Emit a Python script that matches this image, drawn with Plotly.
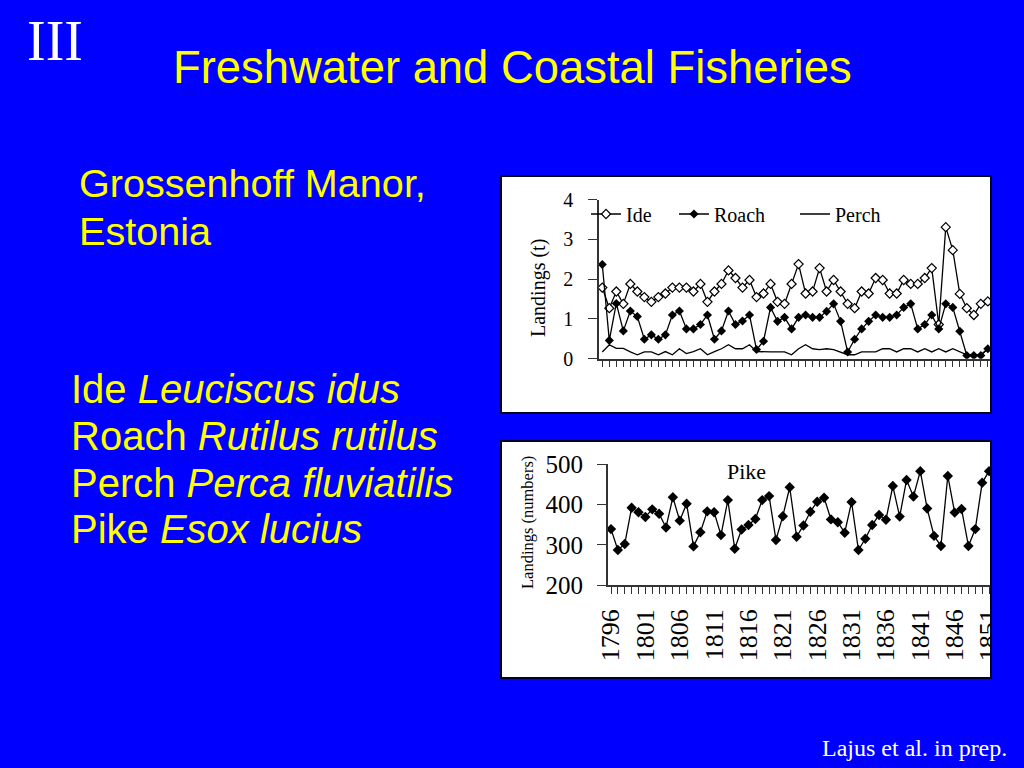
import plotly.graph_objects as go

# ---------------- data ----------------
years = list(range(1796, 1852))
label_years = [1796, 1801, 1806, 1811, 1816, 1821, 1826, 1831, 1836, 1841, 1846, 1851]
label_text = ["1796", "1801", "1806", "1811", "1816", "1821", "1826", "1831", "1836", "1841", "1846", "1851"]
top_yticks = [0, 1, 2, 3, 4]
bottom_yticks = [200, 300, 400, 500]

ide = [1.79, 1.27, 1.69, 1.38, 1.88, 1.69, 1.55, 1.43, 1.55, 1.64,
       1.79, 1.79, 1.79, 1.69, 1.88, 1.43, 1.69, 1.88, 2.22, 2.03,
       1.79, 1.98, 1.55, 1.64, 1.88, 1.43, 1.38, 1.88, 2.38, 1.64,
       1.69, 2.28, 1.69, 1.98, 1.69, 1.38, 1.27, 1.69, 1.64, 2.03,
       1.98, 1.64, 1.64, 1.98, 1.88, 1.88, 2.03, 2.28, 0.86, 3.31,
       2.73, 1.63, 1.27, 1.10, 1.38, 1.44]

roach = [2.37, 0.46, 1.39, 0.70, 1.20, 1.06, 0.49, 0.60, 0.49, 0.60,
         1.10, 1.20, 0.75, 0.75, 0.86, 1.10, 0.49, 0.70, 1.20, 0.86,
         0.95, 1.10, 0.23, 0.44, 1.29, 0.94, 1.04, 0.75, 1.04, 1.10,
         1.04, 1.04, 1.19, 1.38, 0.94, 0.17, 0.49, 0.75, 0.94, 1.10,
         1.04, 1.04, 1.10, 1.29, 1.38, 0.75, 0.86, 1.10, 0.75, 1.38,
         1.29, 0.69, 0.08, 0.08, 0.08, 0.25]

perch = [0.17, 0.35, 0.26, 0.26, 0.17, 0.10, 0.17, 0.17, 0.10, 0.18,
         0.10, 0.25, 0.13, 0.18, 0.25, 0.10, 0.18, 0.25, 0.35, 0.25,
         0.25, 0.35, 0.18, 0.17, 0.17, 0.17, 0.17, 0.10, 0.25, 0.35,
         0.25, 0.23, 0.25, 0.23, 0.17, 0.10, 0.10, 0.17, 0.17, 0.17,
         0.25, 0.25, 0.17, 0.25, 0.25, 0.17, 0.25, 0.17, 0.25, 0.17,
         0.25, 0.17, 0.10, 0.10, 0.10, 0.25]

pike = [339, 287, 302, 392, 381, 369, 388, 377, 343, 418,
        360, 402, 296, 331, 383, 381, 324, 411, 290, 338,
        349, 364, 411, 421, 312, 371, 443, 320, 348, 382,
        407, 417, 363, 356, 330, 406, 287, 315, 349, 374,
        362, 446, 370, 461, 420, 483, 390, 322, 297, 471,
        380, 389, 297, 339, 454, 483]

# ---------------- styling ----------------
W, H = 1024, 768
BLUE = "#0000FF"
YELLOW = "#FFFF00"
SERIF = "Liberation Serif"
SANS = "Liberation Sans"
AX = "#333333"


def px(x):
    return x / W


def py(y):
    return 1 - y / H


def note(text, x, y, size, family, color, xanchor="center", yanchor="middle", angle=0):
    return dict(text=text, x=px(x), y=py(y), xref="paper", yref="paper",
                xanchor=xanchor, yanchor=yanchor, textangle=angle,
                showarrow=False, font=dict(family=family, size=size, color=color))


def legend_box(x):
    return dict(orientation="h", x=px(x), y=py(214), xanchor="left",
                yanchor="middle", bgcolor="rgba(0,0,0,0)",
                font=dict(family=SERIF, size=20, color="black"),
                itemclick=False, itemdoubleclick=False)


fig = go.Figure()

line_style = dict(color="black", width=1.3)
fig.add_trace(go.Scatter(x=years, y=ide, name="Ide", mode="lines+markers",
                         line=line_style, legend="legend",
                         marker=dict(symbol="diamond", size=7, color="white",
                                     line=dict(color="black", width=1.2)),
                         xaxis="x", yaxis="y"))
fig.add_trace(go.Scatter(x=years, y=roach, name="Roach", mode="lines+markers",
                         line=line_style, legend="legend2",
                         marker=dict(symbol="diamond", size=7, color="black"),
                         xaxis="x", yaxis="y"))
fig.add_trace(go.Scatter(x=years, y=perch, name="Perch", mode="lines",
                         line=line_style, legend="legend3",
                         xaxis="x", yaxis="y"))
fig.add_trace(go.Scatter(x=years, y=pike, name="Pike", mode="lines+markers",
                         line=line_style, showlegend=False,
                         marker=dict(symbol="diamond", size=8, color="black"),
                         xaxis="x2", yaxis="y2"))

axis_common = dict(showgrid=False, zeroline=False, showline=True, linecolor=AX,
                   linewidth=1.5, ticks="outside", tickcolor=AX, tickwidth=1.2,
                   fixedrange=True, automargin=False)

shapes = [
    dict(type="rect", xref="paper", yref="paper", layer="below",
         x0=px(501), x1=px(991), y0=py(413), y1=py(176),
         fillcolor="white", line=dict(width=0)),
    dict(type="rect", xref="paper", yref="paper", layer="below",
         x0=px(501), x1=px(991), y0=py(678), y1=py(441),
         fillcolor="white", line=dict(width=0)),
    dict(type="rect", xref="paper", yref="paper", layer="above",
         x0=px(991), x1=1, y0=py(700), y1=py(430),
         fillcolor=BLUE, line=dict(width=0)),
    dict(type="rect", xref="paper", yref="paper", layer="above",
         x0=px(501), x1=px(991), y0=py(413), y1=py(176),
         fillcolor="rgba(0,0,0,0)", line=dict(color="#000022", width=2)),
    dict(type="rect", xref="paper", yref="paper", layer="above",
         x0=px(501), x1=px(991), y0=py(678), y1=py(441),
         fillcolor="rgba(0,0,0,0)", line=dict(color="#000022", width=2)),
]

annotations = [
    note("III", 55, 41, 56, SERIF, "white"),
    note("Freshwater and Coastal Fisheries", 512, 68, 45.4, SANS, YELLOW),
    note("Grossenhoff Manor,", 77, 183, 39.6, SANS, YELLOW, xanchor="left"),
    note("Estonia", 77, 231, 39.6, SANS, YELLOW, xanchor="left"),
    note("Ide <i>Leuciscus idus</i>", 69, 389, 40, SANS, YELLOW, xanchor="left"),
    note("Roach <i>Rutilus rutilus</i>", 69, 436, 40, SANS, YELLOW, xanchor="left"),
    note("Perch <i>Perca fluviatilis</i>", 69, 483, 40, SANS, YELLOW, xanchor="left"),
    note("Pike <i>Esox lucius</i>", 69, 529, 40, SANS, YELLOW, xanchor="left"),
    note("Lajus et al. in prep.", 1009, 748, 24, SERIF, "white", xanchor="right"),
    note("Landings (t)", 538, 288, 20, SERIF, "black", angle=-90),
    note("Landings (numbers)", 527, 523, 16.5, SERIF, "black", angle=-90),
    note("Pike", 746, 471, 22, SERIF, "black"),
]

fig.update_layout(
    width=W, height=H, autosize=False,
    margin=dict(l=0, r=0, t=0, b=0, pad=0),
    paper_bgcolor=BLUE, plot_bgcolor="rgba(0,0,0,0)",
    showlegend=True,
    legend=legend_box(586),
    legend2=legend_box(674),
    legend3=legend_box(795),
    xaxis=dict(domain=[px(599), px(990)], range=[1795.53, 1851.31],
               anchor="y", tickvals=years, showticklabels=False, ticklen=7,
               **axis_common),
    yaxis=dict(domain=[py(358.7), py(199.7)], range=[0, 4], anchor="x",
               tickvals=top_yticks, ticklen=9, ticklabelstandoff=11,
               tickfont=dict(family=SERIF, size=20, color="black"),
               **axis_common),
    xaxis2=dict(domain=[px(607.7), px(990)], range=[1795.52, 1851.14],
                anchor="y2", tickvals=label_years, ticktext=label_text,
                tickangle=-90, ticklen=7, ticklabelstandoff=5,
                minor=dict(tick0=1796, dtick=1, ticks="outside", ticklen=7,
                           tickcolor=AX, tickwidth=1.2),
                tickfont=dict(family=SERIF, size=26, color="black"),
                **axis_common),
    yaxis2=dict(domain=[py(585), py(464.3)], range=[200, 500], anchor="x2",
                tickvals=bottom_yticks, ticklen=9, ticklabelstandoff=9,
                tickfont=dict(family=SERIF, size=25, color="black"),
                **axis_common),
    shapes=shapes,
    annotations=annotations,
)

fig.write_html(
    "out.html",
    config={"responsive": False, "displayModeBar": False},
    post_script="document.body.style.margin='0';document.body.style.overflow='hidden';",
)
